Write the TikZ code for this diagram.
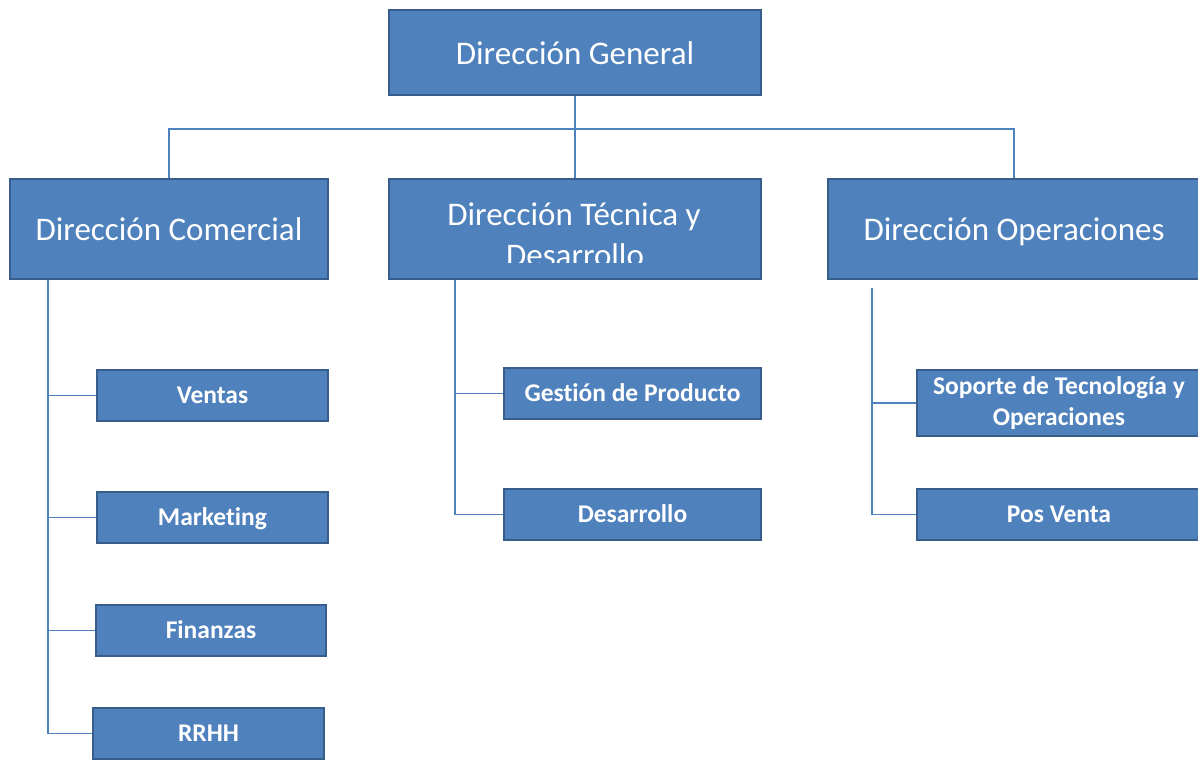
\documentclass[tikz,border=0pt]{standalone}
\usepackage{fontspec}
\setmainfont{Carlito}[Ligatures=NoCommon]
\definecolor{boxfill}{HTML}{4F81BD}
\definecolor{boxline}{HTML}{385D8A}
\definecolor{connline}{HTML}{4F81BD}
\begin{document}
\begin{tikzpicture}[x=1pt,y=-1pt,
  unit/.style={draw=boxline, fill=boxfill, line width=2.5pt, text=white,
    inner sep=0pt, align=center},
  headfont/.style={font=\fontsize{33}{41}\selectfont},
  head/.style={unit, headfont, text height=23.5pt, text depth=0pt},
  subbox/.style={unit, font=\bfseries\fontsize{25.5}{31}\selectfont},
  sub/.style={subbox, text height=15.6pt, text depth=0pt},
  conn/.style={draw=connline, line width=1.4pt}]
\useasboundingbox (0,0) rectangle (1198,761);

% top level
\node[head, minimum width=372pt, minimum height=85pt] (gen) at (575,52.5) {Dirección General};

% second level
\node[head, minimum width=318pt, minimum height=100pt] (com) at (169,229) {Dirección Comercial};
\node[unit, minimum width=372pt, minimum height=100pt] (tec) at (575,229) {};
\begin{scope}
  % the second line of this heading is cut off by the box
  \clip (390,180) rectangle (760,262);
  \node[headfont, text=white, inner sep=0pt, anchor=base] (tec1) at (574,225) {Dirección Técnica y};
  \node[headfont, text=white, inner sep=0pt, anchor=base] (tec2) at (575,266) {Desarrollo};
\end{scope}
\node[head, minimum width=372pt, minimum height=100pt] (ope) at (1014,229) {Dirección Operaciones};

% third level, commercial
\node[sub, minimum width=231pt, minimum height=51pt] (ventas) at (212.5,395.5) {Ventas};
\node[sub, minimum width=231pt, minimum height=51pt] (mkt) at (212.5,517.5) {Marketing};
\node[sub, minimum width=230pt, minimum height=51pt] (fin) at (211,630.5) {Finanzas};
\node[sub, minimum width=231pt, minimum height=51pt] (rrhh) at (208.5,733.5) {RRHH};

% third level, technical
\node[sub, minimum width=257pt, minimum height=51pt] (gestion) at (632.5,393.5) {Gestión de Producto};
\node[sub, minimum width=257pt, minimum height=51pt] (desa) at (632.5,514.5) {Desarrollo};

% third level, operations
\node[subbox, minimum width=284pt, minimum height=66pt] (soporte) at (1059,403) {Soporte de Tecnología y\\Operaciones};
\node[sub, minimum width=284pt, minimum height=51pt] (pos) at (1059,514.5) {Pos Venta};

% connectors from the top
\coordinate (bus) at (0,129);
\draw[conn] (gen.south) -- (tec.north);
\draw[conn] (com.north) -- (com.north |- bus) -- (ope.north |- bus) -- (ope.north);

% commercial branch
\coordinate (comtrunk) at (48,0);
\draw[conn] (com.south -| comtrunk) |- (rrhh.west);
\draw[conn] (ventas.west) -- (ventas.west -| comtrunk);
\draw[conn] (mkt.west) -- (mkt.west -| comtrunk);
\draw[conn] (fin.west) -- (fin.west -| comtrunk);

% technical branch
\coordinate (tectrunk) at (455,0);
\draw[conn] (tec.south -| tectrunk) |- (desa.west);
\draw[conn] (gestion.west) -- (gestion.west -| tectrunk);

% operations branch
\coordinate (opetop) at (872,288);
\draw[conn] (opetop) |- (pos.west);
\draw[conn] (soporte.west) -- (soporte.west -| opetop);
\end{tikzpicture}
\end{document}
